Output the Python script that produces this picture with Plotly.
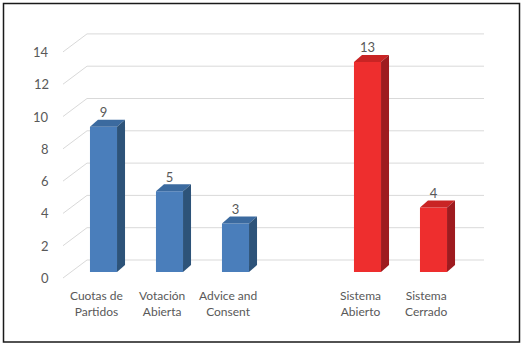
import plotly.graph_objects as go

# ---- data ----
categories = ["Cuotas de<br>Partidos", "Votación<br>Abierta", "Advice and<br>Consent", "",
              "Sistema<br>Abierto", "Sistema<br>Cerrado"]
values = [9, 5, 3, None, 13, 4]
series = ["blue", "blue", "blue", None, "red", "red"]
y_ticks = [0, 2, 4, 6, 8, 10, 12, 14]

# ---- styling ----
W, H = 524, 346
PX_X = 66.0      # pixels per category
PX_Y = 16.15     # pixels per value unit
X0_PX = 103.5    # pixel of first category centre
Y0_PX = 272.0    # pixel of value 0 on bar front
BAR_W = 0.41
DX = 8 / PX_X    # depth offset (x)
DY = 7 / PX_Y    # depth offset (y)
FRONT_FLOOR_X = (63 - X0_PX) / PX_X
BACK_X = (87 - X0_PX) / PX_X
RIGHT_X = (484 - X0_PX) / PX_X
FRONT_DY = -6 / PX_Y
BACK_DY = 12 / PX_Y

palette = {
    "blue": {"front": "#4A7EBB", "top": "#3B6A9F", "side": "#2D5379"},
    "red": {"front": "#EE2E2E", "top": "#C92424", "side": "#9E1B1F"},
}
grid_color = "#D9D9D9"
text_color = "#595959"
font_family = "Lato"

fig = go.Figure()

# back wall / floor gridlines
shapes = []
for v in y_ticks:
    shapes.append(dict(type="line", xref="x", yref="y", layer="below",
                       x0=FRONT_FLOOR_X, y0=v + FRONT_DY, x1=BACK_X, y1=v + BACK_DY,
                       line=dict(color=grid_color, width=1)))
    shapes.append(dict(type="line", xref="x", yref="y", layer="below",
                       x0=BACK_X, y0=v + BACK_DY, x1=RIGHT_X, y1=v + BACK_DY,
                       line=dict(color=grid_color, width=1)))

# frame
shapes.append(dict(type="rect", xref="paper", yref="paper",
                   x0=3.5 / W, x1=519.5 / W, y0=1 - 342 / H, y1=1 - 3.5 / H,
                   line=dict(color="#1a1a1a", width=1.5), fillcolor="rgba(0,0,0,0)"))

# bars
for i, (v, s) in enumerate(zip(values, series)):
    if v is None:
        continue
    c = palette[s]
    fig.add_trace(go.Bar(x=[i], y=[v], width=BAR_W, marker=dict(color=c["front"], line=dict(width=0)),
                         showlegend=False, hoverinfo="skip"))
    l, r = i - BAR_W / 2, i + BAR_W / 2
    # top face
    fig.add_trace(go.Scatter(x=[l, r, r + DX, l + DX, l], y=[v, v, v + DY, v + DY, v],
                             fill="toself", fillcolor=c["top"], mode="lines",
                             line=dict(width=0, color=c["top"]), showlegend=False, hoverinfo="skip"))
    # side face
    fig.add_trace(go.Scatter(x=[r, r + DX, r + DX, r, r], y=[0, DY, v + DY, v, 0],
                             fill="toself", fillcolor=c["side"], mode="lines",
                             line=dict(width=0, color=c["side"]), showlegend=False, hoverinfo="skip"))

# value labels
lx = [i for i, v in enumerate(values) if v is not None]
ly = [v + 0.8 for v in values if v is not None]
lt = [str(v) for v in values if v is not None]
fig.add_trace(go.Scatter(x=lx, y=ly, text=lt, mode="text", textposition="middle center",
                         textfont=dict(family=font_family, size=13, color=text_color),
                         showlegend=False, hoverinfo="skip"))

annotations = []
# y tick labels
for v in y_ticks:
    annotations.append(dict(x=(51 - X0_PX) / PX_X, y=v + FRONT_DY, xref="x", yref="y",
                            text=str(v), showarrow=False, xanchor="right", yanchor="middle",
                            font=dict(family=font_family, size=13, color=text_color)))
# category labels
for i, cat in enumerate(categories):
    if not cat:
        continue
    annotations.append(dict(x=i - 7.5 / PX_X, y=(Y0_PX - 286) / PX_Y, xref="x", yref="y",
                            text=cat, showarrow=False, xanchor="center", yanchor="top",
                            font=dict(family=font_family, size=12, color=text_color)))

fig.update_layout(
    width=W, height=H, autosize=False,
    margin=dict(l=0, r=0, t=0, b=0),
    paper_bgcolor="white", plot_bgcolor="white",
    xaxis=dict(range=[-X0_PX / PX_X, (W - X0_PX) / PX_X], visible=False, fixedrange=True),
    yaxis=dict(range=[(Y0_PX - H) / PX_Y, Y0_PX / PX_Y], visible=False, fixedrange=True),
    shapes=shapes, annotations=annotations,
    barmode="overlay", showlegend=False,
)

fig.write_html("out.html", config={"displayModeBar": False},
               post_script="document.body.style.margin='0';document.body.style.padding='0';"
                           "document.body.style.overflow='hidden';")
